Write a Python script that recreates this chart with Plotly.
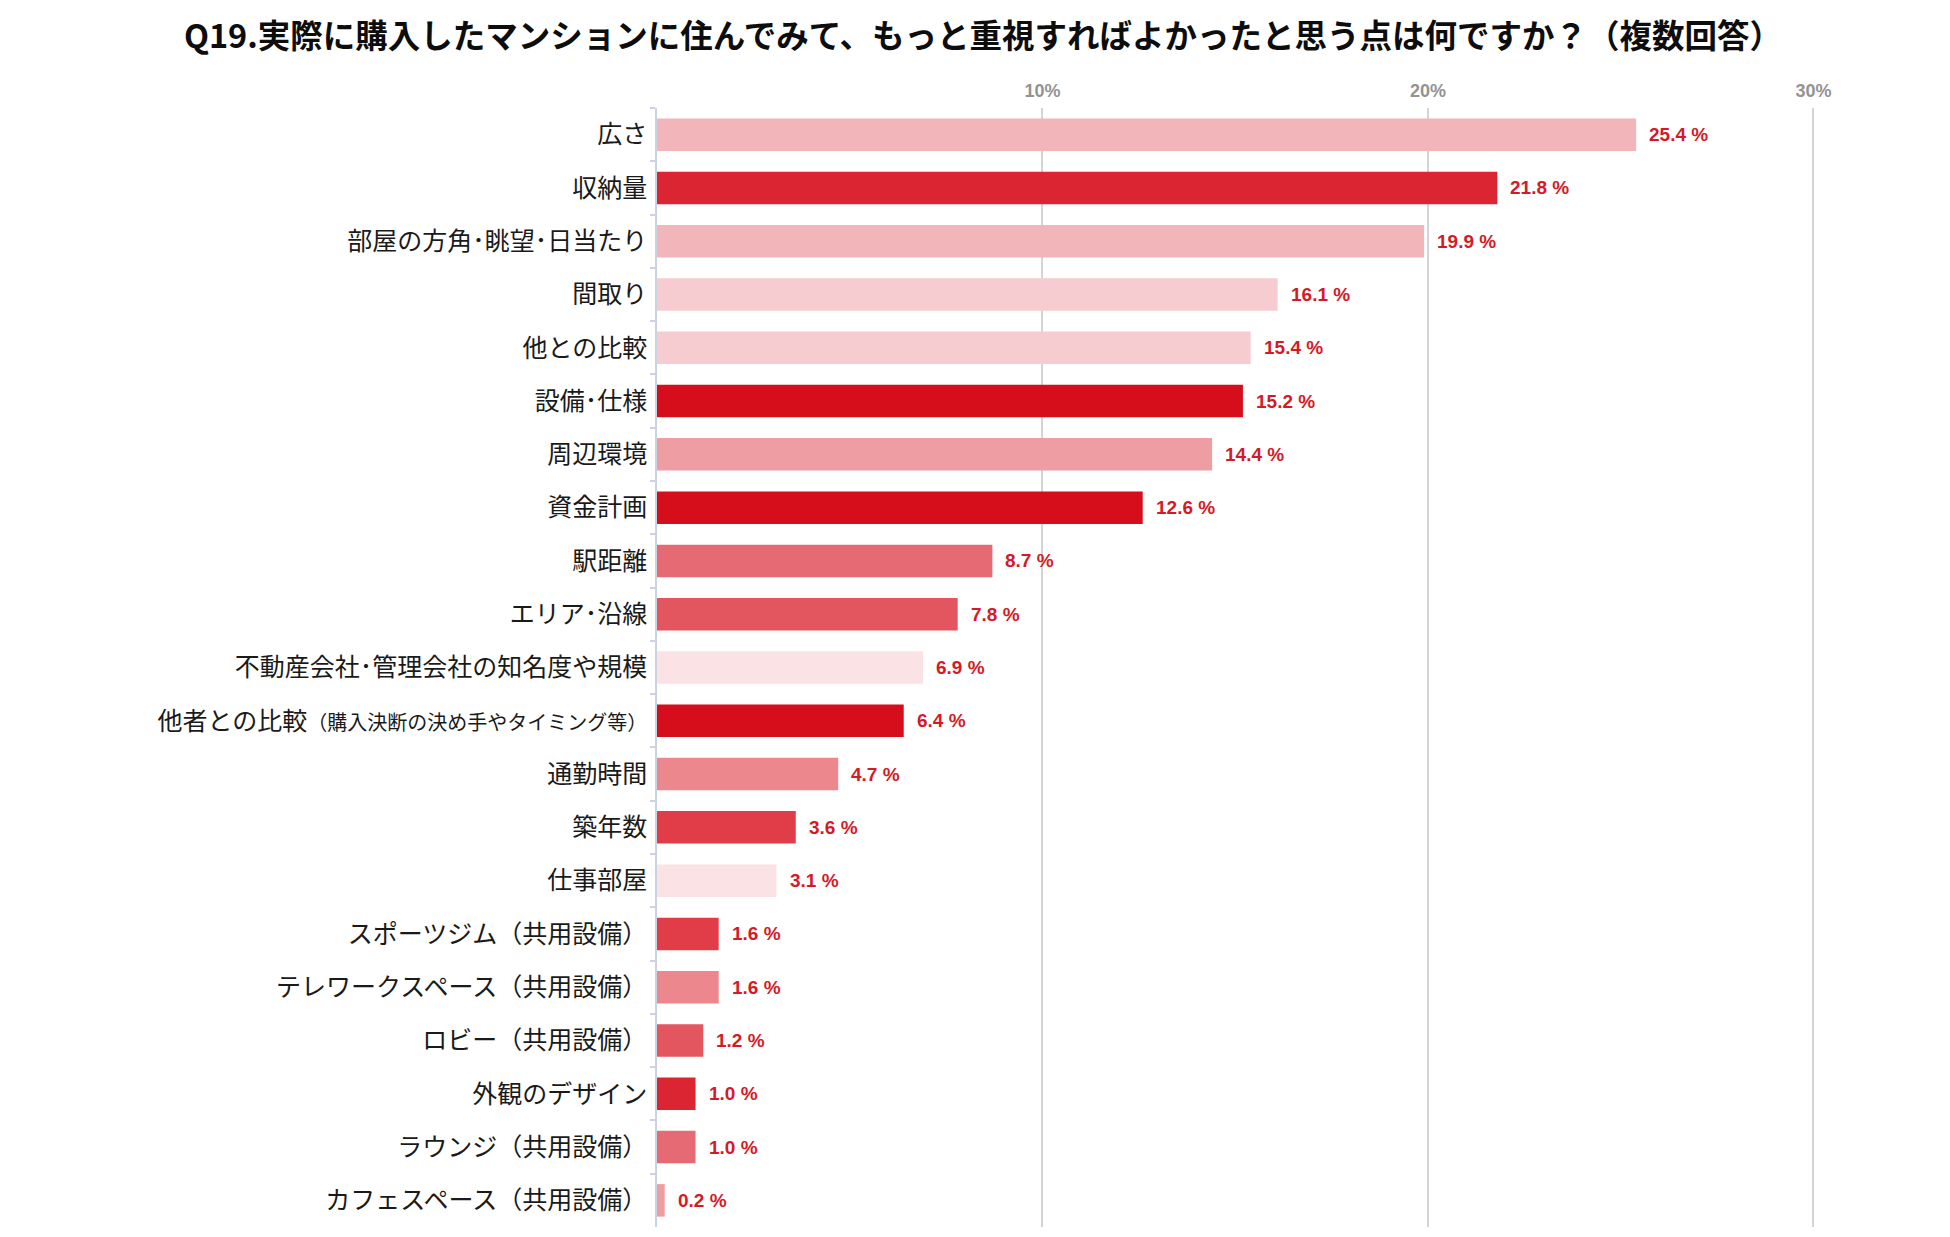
import plotly.graph_objects as go

# ---- data (top to bottom)
items = [
    "広さ",
    "収納量",
    "部屋の方角･眺望･日当たり",
    "間取り",
    "他との比較",
    "設備･仕様",
    "周辺環境",
    "資金計画",
    "駅距離",
    "エリア･沿線",
    "不動産会社･管理会社の知名度や規模",
    "他者との比較<span style='font-size:20px'>（購入決断の決め手やタイミング等）</span>",
    "通勤時間",
    "築年数",
    "仕事部屋",
    "スポーツジム（共用設備）",
    "テレワークスペース（共用設備）",
    "ロビー（共用設備）",
    "外観のデザイン",
    "ラウンジ（共用設備）",
    "カフェスペース（共用設備）",
]
values = [25.4, 21.8, 19.9, 16.1, 15.4, 15.2, 14.4, 12.6, 8.7, 7.8, 6.9,
          6.4, 4.7, 3.6, 3.1, 1.6, 1.6, 1.2, 1.0, 1.0, 0.2]
colors = ["#F2B6BA", "#DC2532", "#F2B6BA", "#F6CCD0", "#F6CCD0", "#D60D1B",
          "#EE9EA3", "#D60D1B", "#E66A73", "#E3555F", "#FBE3E5", "#D60D1B",
          "#EC878D", "#E03D48", "#FBE3E5", "#E03D48", "#EC878D", "#E3555F",
          "#DC2532", "#E66A73", "#EE9EA3"]
tick_vals = [10, 20, 30]
tick_text = ["10%", "20%", "30%"]

title = "Q19.実際に購入したマンションに住んでみて、もっと重視すればよかったと思う点は何ですか？（複数回答）"

jp = "Noto Sans CJK JP"

fig = go.Figure()
fig.add_trace(go.Bar(
    x=values,
    y=items,
    orientation="h",
    marker=dict(color=colors, line=dict(width=0)),
    hoverinfo="x+y",
    showlegend=False,
))

# value labels
annotations = []
for lab, v in zip(items, values):
    annotations.append(dict(
        x=v, y=lab, xref="x", yref="y",
        text=f"{v:.1f} %",
        showarrow=False,
        xanchor="left", yanchor="middle",
        xshift=11,
        font=dict(family="Liberation Sans", size=19, color="#D51A27", weight="bold"),
    ))

fig.update_layout(
    width=1950,
    height=1237,
    paper_bgcolor="white",
    plot_bgcolor="white",
    margin=dict(l=649, r=106, t=100, b=18),
    bargap=0.39,
    title=dict(
        text=title,
        x=0.5, xref="container", xanchor="center",
        y=1 - 29 / 1237, yref="container", yanchor="middle",
        font=dict(family=jp, size=32.5, color="#0D0D0D", weight="bold"),
    ),
    xaxis=dict(
        range=[0, 31],
        side="top",
        tickvals=tick_vals,
        ticktext=tick_text,
        tickfont=dict(family="Liberation Sans", size=18, color="#939393", weight="bold"),
        ticklabelstandoff=6,
        showgrid=True,
        gridcolor="#D4D4D4",
        gridwidth=1.5,
        zeroline=False,
        showline=False,
        ticks="",
        fixedrange=True,
    ),
    yaxis=dict(
        categoryorder="array",
        categoryarray=items,
        autorange="reversed",
        showline=True,
        linecolor="#C9D3E2",
        linewidth=1.5,
        ticks="outside",
        tickson="boundaries",
        ticklen=5,
        tickcolor="#C9D3E2",
        tickwidth=1.5,
        tickfont=dict(family=jp, size=25, color="#1A1A1A"),
        ticklabelstandoff=3,
        showgrid=False,
        zeroline=False,
        fixedrange=True,
    ),
    annotations=annotations,
)

fig.write_html("out.html")
